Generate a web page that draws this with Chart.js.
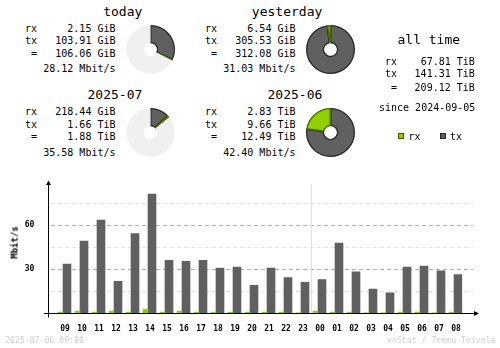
<!DOCTYPE html>
<html>
<head>
<meta charset="utf-8">
<script src="https://cdn.jsdelivr.net/npm/chart.js@4/dist/chart.umd.min.js"></script>
<style>
  html, body { margin: 0; padding: 0; background: #fff; }
  #wrap { position: relative; width: 500px; height: 348px; overflow: hidden; background: #fff; }
  .t { position: absolute; white-space: pre; font-family: 'DejaVu Sans Mono', monospace; color: #000; }
  canvas { position: absolute; }
  .sq { position: absolute; width: 4px; height: 4px; }
</style>
</head>
<body>
<div id="wrap">
  <canvas id="pieToday" width="49" height="49" style="left:126px;top:25px;width:49px;height:49px"></canvas>
  <canvas id="pieYesterday" width="49" height="49" style="left:306px;top:25px;width:49px;height:49px"></canvas>
  <canvas id="pieMonth" width="49" height="49" style="left:126px;top:108px;width:49px;height:49px"></canvas>
  <canvas id="piePrev" width="49" height="49" style="left:306px;top:108px;width:49px;height:49px"></canvas>
  <canvas id="bars" width="500" height="178" style="left:0;top:170px;width:500px;height:178px"></canvas>
  <div class="sq" style="left:398px;top:133px;background:#92cf00;border:1px solid #3c5500"></div>
  <div class="sq" style="left:440px;top:133px;background:#606060;border:1px solid #262626"></div>
</div>
<script>
// hourly traffic, Mbit/s
const hours = ['09','10','11','12','13','14','15','16','17','18','19','20','21','22','23','00','01','02','03','04','05','06','07','08'];
const rxRate = [0.8, 1.5, 0.8, 1.5, 0.8, 2.8, 0.8, 1.5, 0.8, 0.8, 0.8, 0.8, 0.8, 0.8, 0.3, 1.5, 0.8, 0.8, 0.3, 0.3, 0.8, 0.8, 0.3, 0.8];
const txRate = [33.5, 49.1, 63.5, 21.7, 54.3, 81.1, 36.1, 35.4, 36.1, 30.8, 31.5, 19.1, 30.8, 24.3, 21.1, 23.0, 47.8, 28.2, 16.5, 13.9, 31.5, 32.2, 28.9, 26.3];
const yMax = 86;
const yStep = 15;
const yLabelStep = 30;
const dayBreak = '00';

// summary pies, GiB: tx, rx, part of the period not yet used
const pieTx = [103.91, 305.53, 1699.8, 9891.8];
const pieRx = [2.15, 6.54, 218.44, 2897.9];
const pieRest = [220.2, 0, 11663, 0];

// summary texts
const periods = ['today', 'yesterday', '2025-07', '2025-06'];
const rxText = ['2.15 GiB', '6.54 GiB', '218.44 GiB', '2.83 TiB'];
const txText = ['103.91 GiB', '305.53 GiB', '1.66 TiB', '9.66 TiB'];
const totalText = ['106.06 GiB', '312.08 GiB', '1.88 TiB', '12.49 TiB'];
const rateText = ['28.12 Mbit/s', '31.03 Mbit/s', '35.58 Mbit/s', '42.40 Mbit/s'];
const allTime = ['67.81 TiB', '141.31 TiB', '209.12 TiB'];
const since = 'since 2024-09-05';
const stamp = '2025-07-06 09:00';
const credit = 'vnStat / Teemu Toivola';

const RX = '#92cf00', TX = '#606060', REST = '#f0f0f0';
const FONT = "'DejaVu Sans Mono', monospace";

const wrap = document.getElementById('wrap');
function put(text, x, base, size, align, color, weight) {
  const d = document.createElement('div');
  d.className = 't';
  d.textContent = text;
  d.style.fontSize = size + 'px';
  d.style.lineHeight = size + 'px';
  d.style.top = (base - size * 0.846) + 'px';
  if (weight) d.style.fontWeight = weight;
  if (color) d.style.color = color;
  if (align === 'right') d.style.right = (500 - x) + 'px';
  else if (align === 'center') { d.style.left = (x - 100) + 'px'; d.style.width = '200px'; d.style.textAlign = 'center'; }
  else d.style.left = x + 'px';
  wrap.appendChild(d);
  return d;
}

// four summary blocks
const blockX = [0, 180, 0, 180];
const blockY = [0, 0, 83.3, 83.3];
periods.forEach((p, i) => {
  const bx = blockX[i], by = blockY[i];
  put(p, 142.3 + bx, 16 + by, 13, 'right');
  put('rx', 25 + bx, 32.5 + by, 10);
  put('tx', 25 + bx, 44.7 + by, 10);
  put(' =', 25 + bx, 57.3 + by, 10);
  put(rxText[i], 115.5 + bx, 32.5 + by, 10, 'right');
  put(txText[i], 115.5 + bx, 44.7 + by, 10, 'right');
  put(totalText[i], 115.5 + bx, 57.3 + by, 10, 'right');
  put(rateText[i], 115.5 + bx, 72.8 + by, 10, 'right');
});

// all time block
put('all time', 428.8, 44, 13, 'center');
put('rx', 385, 65.5, 10);
put('tx', 385, 77.7, 10);
put(' =', 385, 91.3, 10);
put(allTime[0], 474.8, 65.5, 10, 'right');
put(allTime[1], 474.8, 77.7, 10, 'right');
put(allTime[2], 474.8, 91.3, 10, 'right');
put(since, 379, 111.7, 10);
put('rx', 408.5, 140, 10);
put('tx', 450, 140, 10);

// footer and axis title
put(stamp, 5, 343.3, 8.2, 'left', '#cfcfcf');
put(credit, 495.5, 343.3, 8.2, 'right', '#cfcfcf');
const yt = put('Mbit/s', 14.5, 0, 9, 'center', '#000', 'bold');
yt.style.top = (242.5 - 4.5) + 'px';
yt.style.transform = 'rotate(-90deg)';

// pies
['pieToday', 'pieYesterday', 'pieMonth', 'piePrev'].forEach((id, i) => {
  new Chart(document.getElementById(id), {
    type: 'doughnut',
    data: {
      labels: ['tx', 'rx', 'rest'],
      datasets: [{
        data: [pieTx[i], pieRx[i], pieRest[i]],
        backgroundColor: [TX, RX, REST],
        borderColor: ['#2a2a2a', '#4a6a00', REST],
        borderWidth: [1, 1, 0],
        borderAlign: 'inner',
        hoverOffset: 0
      }]
    },
    options: {
      responsive: false,
      animation: false,
      cutout: '26%',
      events: [],
      plugins: { legend: { display: false }, tooltip: { enabled: false } }
    }
  });
});

// grid, day separator and arrowed axes
const chartDeco = {
  id: 'chartDeco',
  beforeDatasetsDraw(chart) {
    const { ctx, scales: { x, y }, chartArea } = chart;
    ctx.save();
    ctx.lineWidth = 1;
    ctx.setLineDash([4, 3]);
    y.ticks.forEach(t => {
      const v = t.value;
      if (v <= 0 || v % yStep !== 0) return;
      const py = Math.round(y.getPixelForValue(v)) + 0.5;
      ctx.strokeStyle = v % yLabelStep === 0 ? '#b0b0b0' : '#e0e0e0';
      ctx.beginPath();
      ctx.moveTo(51, py);
      ctx.lineTo(473, py);
      ctx.stroke();
    });
    ctx.setLineDash([]);
    const bx = Math.round(x.getPixelForValue(hours.indexOf(dayBreak)) - 7) + 0.5;
    ctx.strokeStyle = '#e0e0e0';
    ctx.beginPath();
    ctx.moveTo(bx, 14);
    ctx.lineTo(bx, chartArea.bottom);
    ctx.stroke();
    ctx.restore();
  },
  afterDatasetsDraw(chart) {
    const { ctx, chartArea } = chart;
    const ax = 48.5, ay = Math.round(chartArea.bottom) + 0.5;
    ctx.save();
    ctx.strokeStyle = '#000';
    ctx.fillStyle = '#000';
    ctx.lineWidth = 1;
    ctx.beginPath();
    ctx.moveTo(ax, 13);
    ctx.lineTo(ax, ay + 4);
    ctx.moveTo(44, ay);
    ctx.lineTo(475, ay);
    ctx.stroke();
    ctx.beginPath();
    ctx.moveTo(ax, 10.5);
    ctx.lineTo(ax - 2.5, 15);
    ctx.lineTo(ax + 2.5, 15);
    ctx.closePath();
    ctx.fill();
    ctx.beginPath();
    ctx.moveTo(479, ay);
    ctx.lineTo(474, ay - 2.5);
    ctx.lineTo(474, ay + 2.5);
    ctx.closePath();
    ctx.fill();
    ctx.restore();
  }
};

new Chart(document.getElementById('bars'), {
  type: 'bar',
  data: {
    labels: hours,
    datasets: [
      { label: 'rx', data: rxRate, backgroundColor: RX, barThickness: 5 },
      { label: 'tx', data: txRate, backgroundColor: TX, barThickness: 8 }
    ]
  },
  options: {
    responsive: false,
    animation: false,
    events: [],
    layout: { padding: { left: 0, right: 37.5, top: 11.4, bottom: 0 } },
    plugins: { legend: { display: false }, tooltip: { enabled: false } },
    scales: {
      x: {
        grid: { display: false },
        border: { display: false },
        ticks: {
          font: { family: FONT, size: 8, weight: 'bold' },
          color: '#000',
          padding: 3,
          labelOffset: 2,
          maxRotation: 0,
          autoSkip: false
        },
        afterFit(s) { s.height = 34.7; }
      },
      y: {
        min: 0,
        max: yMax,
        grid: { display: false },
        border: { display: false },
        ticks: {
          stepSize: yStep,
          font: { family: FONT, size: 8, weight: 'bold' },
          color: '#000',
          padding: 12.2,
          callback: v => (v > 0 && v % yLabelStep === 0 ? v : '')
        },
        afterFit(s) { s.width = 54.5; }
      }
    }
  },
  plugins: [chartDeco]
});
</script>
</body>
</html>
